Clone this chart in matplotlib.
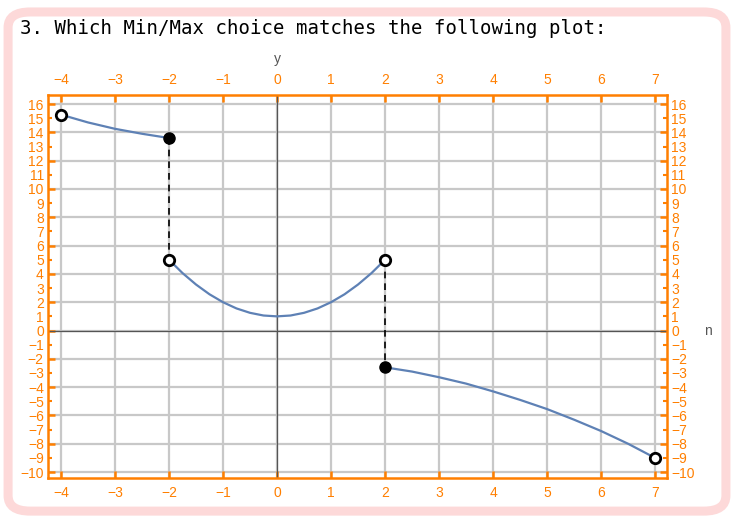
import matplotlib.pyplot as plt
from matplotlib.patches import FancyBboxPatch
from matplotlib.ticker import MultipleLocator

# values
x_left = [-4, -3.5, -3, -2.5, -2]
y_left = [15.25, 14.7, 14.25, 13.9, 13.6]

x_mid = [-2, -1.75, -1.5, -1.25, -1, -0.75, -0.5, -0.25, 0, 0.25, 0.5, 0.75, 1, 1.25, 1.5, 1.75, 2]
y_mid = [5, 4.06, 3.25, 2.56, 2, 1.56, 1.25, 1.06, 1, 1.06, 1.25, 1.56, 2, 2.56, 3.25, 4.06, 5]

x_right = [2, 2.5, 3, 3.5, 4, 4.5, 5, 5.5, 6, 6.5, 7]
y_right = [-2.6, -2.9, -3.3, -3.75, -4.3, -4.9, -5.55, -6.3, -7.1, -8.0, -9.0]

open_x = [-4, -2, 2, 7]
open_y = [15.25, 5, 5, -9]
closed_x = [-2, 2]
closed_y = [13.6, -2.6]

x_ticks = list(range(-4, 8))
y_ticks = list(range(-10, 17))

orange = "#ff7f00"
blue = "#5e81b5"
grid = "#c8c8c8"

fig = plt.figure(figsize=(7.34, 5.21), dpi=100)

# pink rounded frame round the whole card
card = FancyBboxPatch((0.011, 0.019), 0.978, 0.958,
                      boxstyle="round,pad=0,rounding_size=0.03",
                      transform=fig.transFigure, facecolor="white",
                      edgecolor="#fdd9d9", linewidth=6.5, zorder=-5)
fig.patches.append(card)

fig.text(0.027, 0.946, "3. Which Min/Max choice matches the following plot:",
         family="DejaVu Sans Mono", fontsize=13.7, va="center", ha="left")

ax = fig.add_axes([0.0654, 0.0825, 0.8433, 0.7352])
ax.set_zorder(2)
ax.set_xlim(-4.24, 7.22)
ax.set_ylim(-10.42, 16.64)

for xv in x_ticks:
    ax.axvline(xv, color=grid, lw=1.6, zorder=1)
for yv in y_ticks:
    if yv % 2 == 0:
        ax.axhline(yv, color=grid, lw=1.6, zorder=1)
ax.axhline(0, color="#555555", lw=0.9, zorder=2)
ax.axvline(0, color="#555555", lw=0.9, zorder=2)

ax.plot(x_left, y_left, color=blue, lw=1.6, zorder=3)
ax.plot(x_mid, y_mid, color=blue, lw=1.6, zorder=3)
ax.plot(x_right, y_right, color=blue, lw=1.6, zorder=3)

ax.plot([closed_x[0], open_x[1]], [closed_y[0], open_y[1]], color="black",
        ls=(0, (4, 3)), lw=1.2, zorder=3)
ax.plot([open_x[2], closed_x[1]], [open_y[2], closed_y[1]], color="black",
        ls=(0, (4, 3)), lw=1.2, zorder=3)

ax.plot(open_x, open_y, "o", ms=7.5, mfc="white", mec="black", mew=2,
        zorder=4, clip_on=False)
ax.plot(closed_x, closed_y, "o", ms=8, mfc="black", mec="black", zorder=4)

for s in ax.spines.values():
    s.set_color(orange)
    s.set_linewidth(1.8)

ax.set_xticks(x_ticks)
ax.set_xticklabels([str(v).replace("-", "\u2212") for v in x_ticks])
ax.yaxis.set_major_locator(MultipleLocator(2))
ax.yaxis.set_minor_locator(MultipleLocator(1))
ax.yaxis.set_major_formatter(lambda v, p: str(int(round(v))).replace("-", "\u2212"))
ax.yaxis.set_minor_formatter(lambda v, p: str(int(round(v))).replace("-", "\u2212"))

ax.tick_params(axis="x", which="both", direction="in", length=5, width=1.8,
               color=orange, labelcolor=orange, labelsize=10,
               top=True, labeltop=True, pad=6)
ax.tick_params(axis="y", which="major", direction="in", length=5, width=1.8,
               color=orange, labelcolor=orange, labelsize=10,
               right=True, labelright=True, pad=3)
ax.tick_params(axis="y", which="minor", direction="in", length=3, width=1.5,
               color=orange, labelcolor=orange, labelsize=10,
               right=True, labelright=True, pad=3)
for lab in ax.get_xticklabels() + ax.get_yticklabels() + ax.get_yticklabels(minor=True):
    lab.set_family("Liberation Sans")

ax.text(0, 1.095, "y", transform=ax.get_xaxis_transform(), ha="center",
        va="center", color="#555555", fontsize=10, family="Liberation Sans")
ax.text(1.066, 0, "n", transform=ax.get_yaxis_transform(), ha="center",
        va="center", color="#555555", fontsize=10, family="Liberation Sans")

fig.savefig("out.png", dpi=100)
